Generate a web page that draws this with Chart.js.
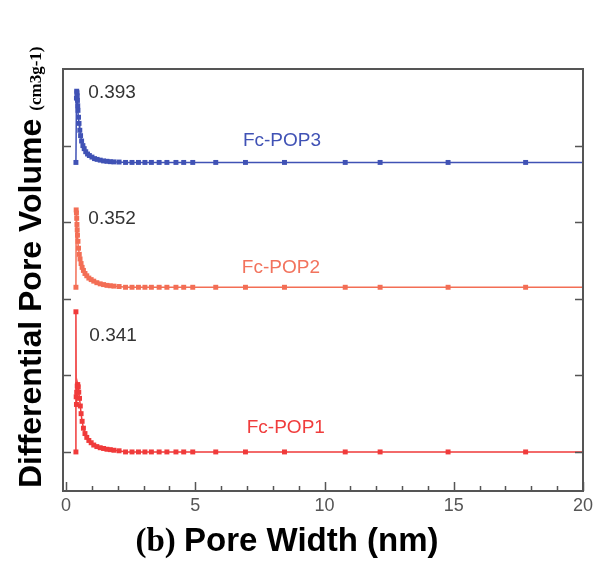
<!DOCTYPE html>
<html>
<head>
<meta charset="utf-8">
<script src="https://cdn.jsdelivr.net/npm/chart.js@4.4.1/dist/chart.umd.min.js"></script>
<style>
  body { margin: 0; background: #fff; }
  #wrap { width: 593px; height: 563px; }
</style>
</head>
<body>
<div id="wrap"><canvas id="myChart" width="593" height="563"></canvas></div>
<script>
// pore width (nm) and differential pore volume (curves are offset)
const pop3X = [0.38, 0.40, 0.41, 0.42, 0.43, 0.44, 0.45, 0.46, 0.48, 0.50, 0.53, 0.56, 0.60, 0.65, 0.70, 0.76, 0.83, 0.90, 1.00, 1.10, 1.20, 1.32, 1.45, 1.58, 1.71, 1.85,
  2.05, 2.30, 2.55, 2.80, 3.05, 3.30, 3.60, 3.90, 4.25, 4.55, 4.90, 5.79, 6.94, 8.45, 10.80, 12.15, 14.78, 17.78, 20];
const pop3Y = [0.378, 0.462, 0.471, 0.469, 0.465, 0.459, 0.452, 0.446, 0.437, 0.429, 0.420, 0.413, 0.406, 0.400, 0.396, 0.392, 0.389, 0.387, 0.385, 0.383, 0.382, 0.381, 0.380, 0.3795, 0.379, 0.3787,
  0.3785, 0.378, 0.378, 0.378, 0.378, 0.378, 0.378, 0.378, 0.378, 0.378, 0.378, 0.378, 0.378, 0.378, 0.378, 0.378, 0.378, 0.378, 0.378];

const pop2X = [0.38, 0.39, 0.40, 0.41, 0.42, 0.43, 0.44, 0.46, 0.48, 0.51, 0.54, 0.58, 0.62, 0.67, 0.73, 0.80, 0.88, 0.97, 1.07, 1.19, 1.32, 1.45, 1.58, 1.71, 1.85,
  2.05, 2.30, 2.55, 2.80, 3.05, 3.30, 3.60, 3.90, 4.25, 4.55, 4.90, 5.79, 6.94, 8.45, 10.80, 12.15, 14.78, 17.78, 20];
const pop2Y = [0.215, 0.316, 0.312, 0.305, 0.297, 0.290, 0.283, 0.275, 0.266, 0.258, 0.252, 0.246, 0.241, 0.237, 0.233, 0.230, 0.227, 0.225, 0.223, 0.221, 0.2195, 0.2185, 0.2175, 0.217, 0.2165,
  0.216, 0.215, 0.215, 0.215, 0.215, 0.215, 0.215, 0.215, 0.215, 0.215, 0.215, 0.215, 0.215, 0.215, 0.215, 0.215, 0.215, 0.215, 0.215];

const pop1X = [0.38, 0.38, 0.39, 0.40, 0.41, 0.43, 0.45, 0.47, 0.49, 0.52, 0.55, 0.58, 0.62, 0.67, 0.73, 0.80, 0.88, 0.97, 1.07, 1.19, 1.32, 1.45, 1.58, 1.71, 1.85,
  2.05, 2.30, 2.55, 2.80, 3.05, 3.30, 3.60, 3.90, 4.25, 4.55, 4.90, 5.79, 6.94, 8.45, 10.80, 12.15, 14.78, 17.78, 20];
const pop1Y = [0.0, 0.183, 0.072, 0.062, 0.078, 0.086, 0.088, 0.085, 0.078, 0.070, 0.060, 0.050, 0.040, 0.031, 0.024, 0.019, 0.015, 0.012, 0.009, 0.007, 0.0055, 0.0045, 0.0035, 0.003, 0.0022,
  0.0015, 0, 0, 0, 0, 0, 0, 0, 0, 0, 0, 0, 0, 0, 0, 0, 0, 0, 0];

// text labels on the plot: [text, x (nm), y, colour]
const notes = [
  ['0.393', 0.86, 0.469, '#333'],
  ['0.352', 0.86, 0.305, '#333'],
  ['0.341', 0.90, 0.152, '#333'],
  ['Fc-POP3', 6.84, 0.406, '#4052b5'],
  ['Fc-POP2', 6.80, 0.240, '#f2735d'],
  ['Fc-POP1', 6.99, 0.031, '#f03c3c']
];

const xMajor = [0, 5, 10, 15, 20];
const xMinor = [1, 2, 3, 4, 6, 7, 8, 9, 11, 12, 13, 14, 16, 17, 18, 19];
const yMajor = [0, 0.1, 0.2, 0.3, 0.4];

function toPoints(xs, ys) {
  return xs.map((x, i) => ({x: x, y: ys[i]}));
}

function pointSize(ctx) {
  return ctx.raw && ctx.raw.x >= 20 ? 0 : 3.5;
}

const frameColor = '#555';

// frame, inward ticks, on-plot labels and axis titles
const decor = {
  id: 'decor',
  afterDraw(chart) {
    const ctx = chart.ctx;
    const a = chart.chartArea;
    const xs = chart.scales.x;
    const ys = chart.scales.y;
    ctx.save();
    ctx.strokeStyle = frameColor;
    ctx.lineWidth = 2;
    ctx.strokeRect(a.left, a.top, a.right - a.left, a.bottom - a.top);
    ctx.lineWidth = 1.5;
    ctx.beginPath();
    yMajor.forEach(v => {
      const py = Math.round(ys.getPixelForValue(v)) + 0.5;
      ctx.moveTo(a.left, py); ctx.lineTo(a.left + 8, py);
      ctx.moveTo(a.right, py); ctx.lineTo(a.right - 8, py);
    });
    xMajor.forEach(v => {
      const px = Math.round(xs.getPixelForValue(v)) + 0.5;
      ctx.moveTo(px, a.bottom); ctx.lineTo(px, a.bottom - 9);
    });
    xMinor.forEach(v => {
      const px = Math.round(xs.getPixelForValue(v)) + 0.5;
      ctx.moveTo(px, a.bottom); ctx.lineTo(px, a.bottom - 5);
    });
    ctx.stroke();

    ctx.font = '19px "Liberation Sans", Arial, sans-serif';
    ctx.textAlign = 'left';
    ctx.textBaseline = 'middle';
    notes.forEach(n => {
      ctx.fillStyle = n[3];
      ctx.fillText(n[0], xs.getPixelForValue(n[1]), ys.getPixelForValue(n[2]));
    });

    // y title, rotated
    ctx.fillStyle = '#000';
    ctx.textBaseline = 'alphabetic';
    ctx.translate(41, 488);
    ctx.rotate(-Math.PI / 2);
    ctx.font = 'bold 32px "Liberation Sans", Arial, sans-serif';
    ctx.fillText('Differential Pore Volume', 0, 0);
    const w1 = ctx.measureText('Differential Pore Volume').width;
    ctx.font = 'bold 17px "Liberation Serif", "Times New Roman", serif';
    ctx.fillText('(cm3g-1)', w1 + 8, 0);
    ctx.restore();

    // x title
    ctx.save();
    ctx.fillStyle = '#000';
    ctx.textBaseline = 'alphabetic';
    ctx.textAlign = 'left';
    ctx.font = 'bold 33px "Liberation Serif", "Times New Roman", serif';
    const part1 = '(b) ';
    const wa = ctx.measureText(part1).width;
    ctx.font = 'bold 33px "Liberation Sans", Arial, sans-serif';
    const wb = ctx.measureText('Pore Width (nm)').width;
    const x0 = 287 - (wa + wb) / 2;
    ctx.font = 'bold 33px "Liberation Serif", "Times New Roman", serif';
    ctx.fillText(part1, x0, 551);
    ctx.font = 'bold 33px "Liberation Sans", Arial, sans-serif';
    ctx.fillText('Pore Width (nm)', x0 + wa, 551);
    ctx.restore();
  }
};

function lineSet(label, xs, ys, color) {
  return {
    label: label,
    data: toPoints(xs, ys),
    borderColor: color,
    backgroundColor: color,
    borderWidth: 1.5,
    pointStyle: 'rect',
    pointRadius: pointSize,
    pointBorderWidth: 0,
    tension: 0
  };
}

const ctx = document.getElementById('myChart').getContext('2d');
const myChart = new Chart(ctx, {
  type: 'line',
  data: {
    datasets: [
      lineSet('Fc-POP3', pop3X, pop3Y, '#4052b5'),
      lineSet('Fc-POP2', pop2X, pop2Y, '#f36e55'),
      lineSet('Fc-POP1', pop1X, pop1Y, '#f03a3a')
    ]
  },
  options: {
    responsive: false,
    animation: false,
    devicePixelRatio: 1,
    layout: { padding: { top: 69, right: 10, left: 0, bottom: 0 } },
    plugins: { legend: { display: false }, tooltip: { enabled: false } },
    scales: {
      x: {
        type: 'linear',
        position: 'bottom',
        min: -0.12, max: 20,
        afterBuildTicks: scale => { scale.ticks = xMajor.map(v => ({value: v})); },
        afterFit: scale => {
          scale.height = 72;
          scale.paddingLeft = 0;
          scale.paddingRight = 0;
        },
        grid: { display: false, drawTicks: false },
        border: { display: false },
        ticks: {
          padding: 4,
          color: '#555',
          font: { family: '"Liberation Sans", Arial, sans-serif', size: 18 },
          maxRotation: 0,
          autoSkip: false
        }
      },
      y: {
        type: 'linear',
        position: 'left',
        min: -0.051, max: 0.5,
        afterFit: scale => { scale.width = 63; },
        grid: { display: false, drawTicks: false },
        border: { display: false },
        ticks: { display: false }
      }
    }
  },
  plugins: [decor]
});
</script>
</body>
</html>
